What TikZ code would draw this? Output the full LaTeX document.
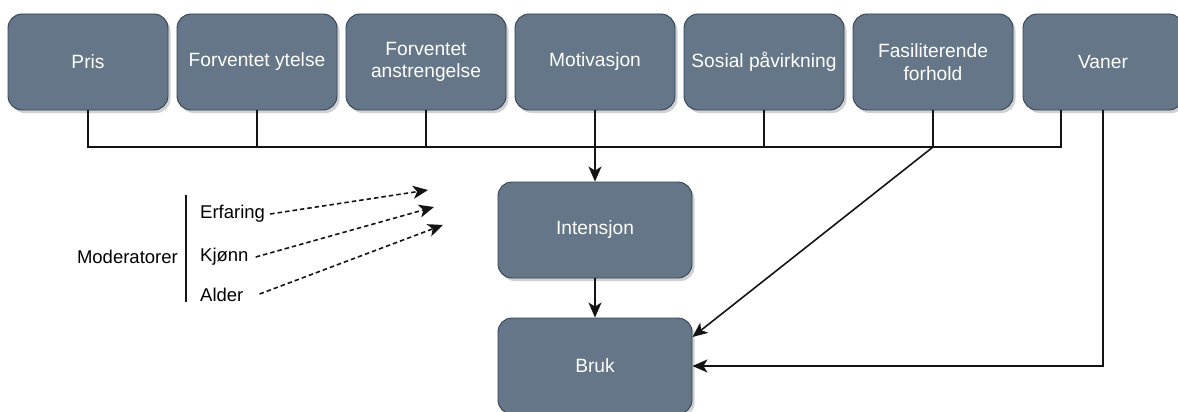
\documentclass[tikz,border=0pt]{standalone}
\usepackage{fontspec}
\setmainfont{Liberation Sans}
\usetikzlibrary{arrows.meta,shadows}
\definecolor{boxfill}{HTML}{647687}
\definecolor{boxline}{HTML}{314354}
\definecolor{wire}{HTML}{141414}
\tikzset{
  factor/.style={rectangle, rounded corners=14pt, draw=boxline, line width=0.9pt,
    fill=boxfill, text=white, minimum width=160pt, minimum height=96pt,
    align=center, font=\fontsize{19.2}{22.5}\selectfont,
    drop shadow={shadow xshift=2.5pt, shadow yshift=-3pt, fill=black, opacity=0.18}},
  outcome/.style={factor, minimum width=194pt},
  label/.style={font=\fontsize{18.5}{22}\selectfont, text=black, inner sep=0pt},
  wireline/.style={draw=wire, line width=1.6pt},
  arrowline/.style={wireline, -{Stealth[length=15pt,width=13pt,inset=4pt]}},
  modarrow/.style={arrowline, dash pattern=on 4.5pt off 3pt},
}
\begin{document}
\begin{tikzpicture}[x=1pt,y=-1pt]
\useasboundingbox (0,0) rectangle (1178,412);
\begin{scope}
\clip (0,0) rectangle (1178,412);

% factor row
\node[factor] (pris) at (88,62)  {Pris};
\node[factor] (ytelse) at (257,62) {Forventet ytelse};
\node[factor] (anstr) at (426,62) {Forventet\\anstrengelse};
\node[factor] (motiv) at (595,62) {Motivasjon};
\node[factor] (sosial) at (764,62) {Sosial påvirkning};
\node[factor] (fasil) at (933,62) {Fasiliterende\\forhold};
\node[factor] (vaner) at (1103,62) {Vaner};

% outcomes
\node[outcome] (intensjon) at (595,230) {Intensjon};
\node[outcome] (bruk) at (595,366) {Bruk};

% collecting bus
\coordinate (hub) at (595,147);
\coordinate (fasjoin) at (fasil.south |- hub);
\draw[wireline] (pris.south) |- (hub);
\draw[wireline] (ytelse.south) |- (hub);
\draw[wireline] (anstr.south) |- (hub);
\draw[wireline] (sosial.south) |- (hub);
\draw[wireline] (fasil.south) -- (fasjoin);
\draw[wireline] ([xshift=-42pt]vaner.south) |- (hub);
\draw[arrowline] (motiv.south) -- (intensjon.north);

% paths to use
\draw[arrowline] (intensjon.south) -- (bruk.north);
\draw[arrowline] (fasjoin) -- ([yshift=29pt]bruk.east);
\draw[arrowline] (vaner.south) |- (bruk.east);

% moderators
\node[label, anchor=east] (moder) at (178,257) {Moderatorer};
\coordinate (bartop) at (186,195);
\coordinate (barbot) at (186,302);
\draw[wireline] (bartop) -- (barbot);
\node[label, anchor=west] (erf) at (200,214) {Erfaring};
\node[label, anchor=west] (kjonn) at (200,257) {Kjønn};
\node[label, anchor=west] (alder) at (200,295) {Alder};
\coordinate (erfend) at (428,190);
\coordinate (kjend) at (434,207);
\coordinate (alend) at (443,225);
\draw[modarrow] ([xshift=5pt]erf.east) -- (erfend);
\draw[modarrow] ([xshift=7pt]kjonn.east) -- (kjend);
\draw[modarrow] ([xshift=16pt,yshift=1pt]alder.east) -- (alend);
\end{scope}
\end{tikzpicture}
\end{document}
